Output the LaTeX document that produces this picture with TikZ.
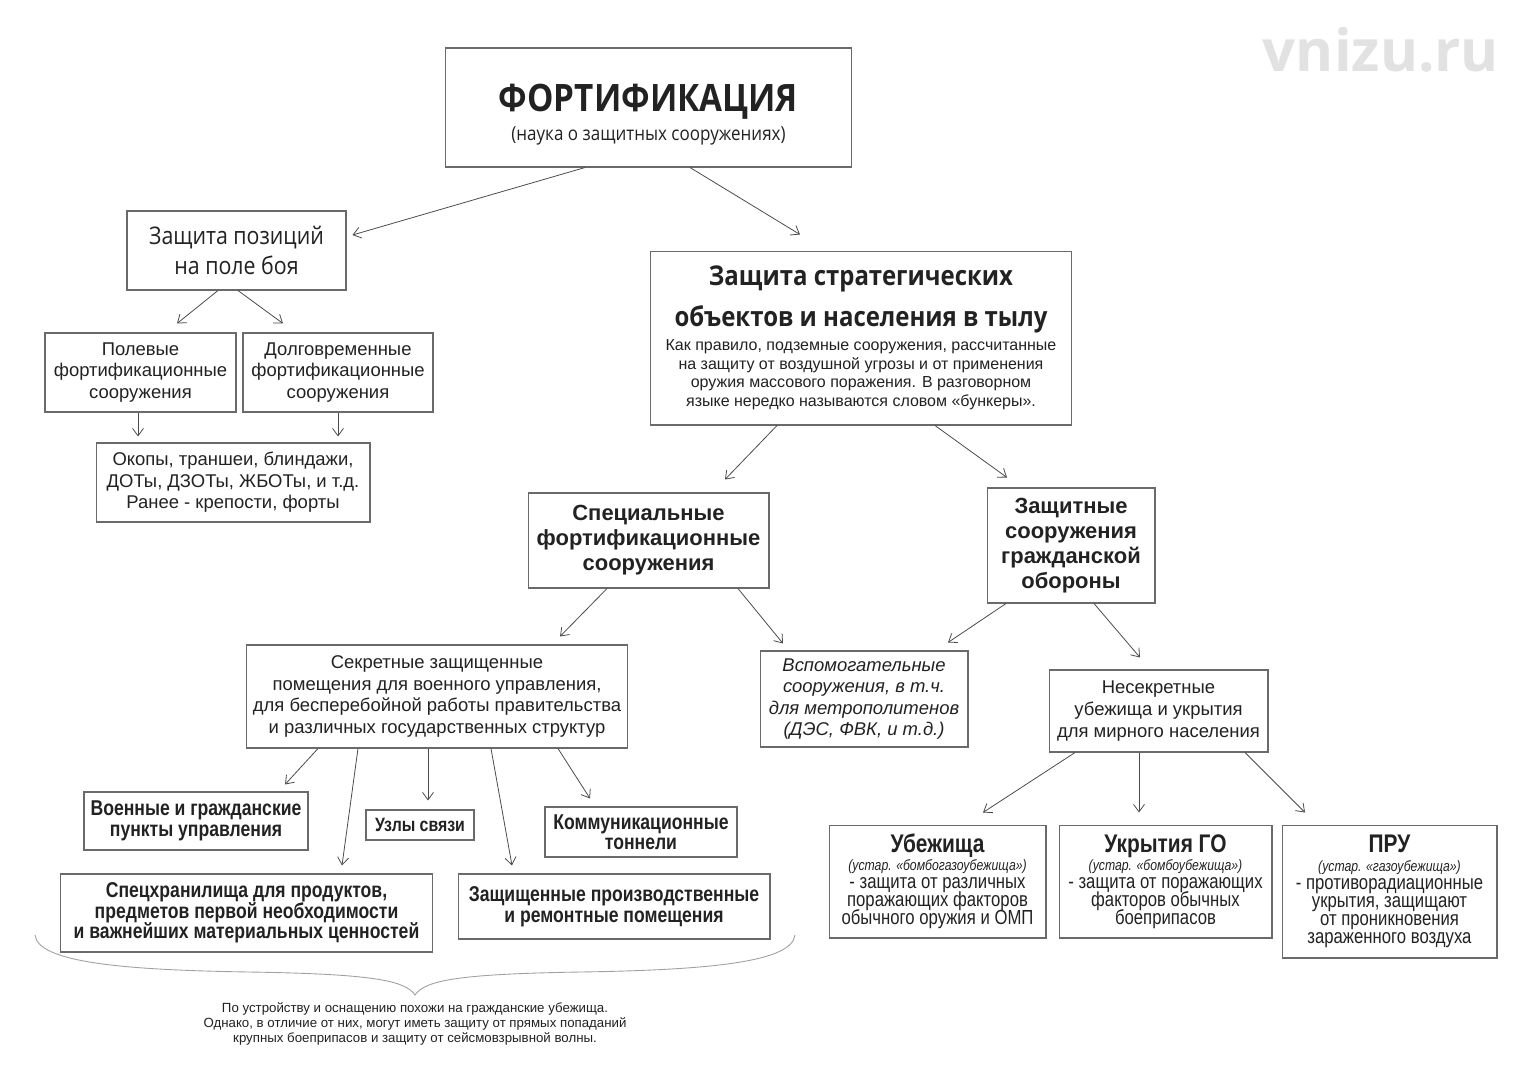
\documentclass[tikz,border=0pt]{standalone}
\usepackage{fontspec}
\setmainfont{Liberation Sans}
\newfontfamily\osfont[FakeStretch=0.88]{Open Sans}
\newfontfamily\sitefont{Open Sans}
\newfontfamily\narrowfont[FakeStretch=0.82]{Liberation Sans}
\usetikzlibrary{arrows.meta,calc}
\definecolor{ink}{HTML}{222222}
\definecolor{frame}{HTML}{6A6A6A}
\definecolor{wire}{HTML}{4A4A4A}
\definecolor{bracegray}{HTML}{A0A0A0}
\definecolor{watermark}{HTML}{E2E2E2}
\newcommand\headfont{\osfont\bfseries\fontsize{15.5}{19}\selectfont}
\newcommand\sheltertitle{\narrowfont\bfseries\fontsize{14.5}{16}\selectfont}
\newcommand\oldname{\narrowfont\itshape\fontsize{8.5}{9}\selectfont}
\newcommand\tightlines{\lineskiplimit=-20pt\relax}
\tikzset{
  box/.style={draw=frame,line width=0.6pt,fill=white,inner sep=0pt,align=center,text=ink},
  plainbox/.style={box,font=\fontsize{10.5}{12.3}\selectfont},
  heavybox/.style={box,font=\fontsize{12.5}{14.2}\selectfont\bfseries},
  narrowbox/.style={box,font=\narrowfont\fontsize{12.2}{11.7}\selectfont\bfseries\tightlines},
  shelterbox/.style={box,font=\narrowfont\fontsize{11.6}{10.3}\selectfont\tightlines},
  arr/.style={-{Straight Barb[length=1.5mm,width=2.2mm]},draw=wire,line width=0.45pt}
}
\begin{document}
\begin{tikzpicture}[x=0.02cm,y=-0.02cm]
  \useasboundingbox[fill=white] (0,0) rectangle (1525,1080);
  \node[font=\sitefont\bfseries\fontsize{33}{36}\selectfont,text=watermark] (site) at (1381,50) {vnizu.ru};

  % top of the tree
  \node[box,minimum width=8.14cm,minimum height=2.38cm] (fort) at (648.5,107.5)
    {{\osfont\bfseries\fontsize{21.5}{24}\selectfont\rule{0pt}{24pt}ФОРТИФИКАЦИЯ}\\[3pt]
     {\osfont\fontsize{11}{13}\selectfont (наука о защитных сооружениях)}};
  \node[box,minimum width=4.38cm,minimum height=1.58cm,font=\osfont\fontsize{13.8}{17.5}\selectfont] (field) at (236.5,250.5)
    {Защита позиций\\на поле боя};
  \node[box,minimum width=8.44cm,minimum height=3.48cm,font=\fontsize{9.1}{10.7}\selectfont\tightlines] (rear) at (861,338)
    {{\headfont Защита стратегических}\\[12.8pt]
     {\headfont объектов и населения в тылу}\\[2.6pt]
     Как правило, подземные сооружения, рассчитанные\\
     на защиту от воздушной угрозы и от применения\\
     оружия массового поражения. В разговорном\\
     языке нередко называются словом «бункеры».};

  % battlefield branch
  \node[plainbox,minimum width=3.82cm,minimum height=1.58cm] (fieldworks) at (140.5,372.5)
    {Полевые\\фортификационные\\сооружения};
  \node[plainbox,minimum width=3.80cm,minimum height=1.58cm] (permworks) at (338,372.5)
    {Долговременные\\фортификационные\\сооружения};
  \node[plainbox,minimum width=5.48cm,minimum height=1.58cm] (trenches) at (233,482.5)
    {Окопы, траншеи, блиндажи,\\ДОТы, ДЗОТы, ЖБОТы, и т.д.\\Ранее - крепости, форты};

  % rear branch
  \node[heavybox,minimum width=4.82cm,minimum height=1.90cm] (special) at (648.5,540.5)
    {Специальные\\фортификационные\\сооружения};
  \node[heavybox,minimum width=3.36cm,minimum height=2.30cm] (civdef) at (1071,545.5)
    {Защитные\\сооружения\\гражданской\\обороны};
  \node[plainbox,minimum width=7.64cm,minimum height=2.06cm] (secret) at (437,696.5)
    {Секретные защищенные\\помещения для военного управления,\\для бесперебойной работы правительства\\и различных государственных структур};
  \node[plainbox,minimum width=4.16cm,minimum height=1.92cm,font=\fontsize{10.5}{12.3}\selectfont\itshape] (aux) at (864,699)
    {Вспомогательные\\сооружения, в т.ч.\\для метрополитенов\\(ДЭС, ФВК, и т.д.)};
  \node[plainbox,minimum width=4.38cm,minimum height=1.64cm] (public) at (1158.5,711)
    {Несекретные\\убежища и укрытия\\для мирного населения};

  % secret facilities
  \node[narrowbox,minimum width=4.48cm,minimum height=1.16cm] (command) at (196,821)
    {Военные и гражданские\\пункты управления};
  \node[narrowbox,minimum width=2.16cm,minimum height=0.60cm,font=\narrowfont\fontsize{11}{11.7}\selectfont\bfseries] (signal) at (420,825)
    {Узлы связи};
  \node[narrowbox,minimum width=3.84cm,minimum height=1.00cm] (tunnels) at (641,832)
    {Коммуникационные\\тоннели};
  \node[narrowbox,minimum width=7.46cm,minimum height=1.56cm] (stores) at (246.5,913)
    {Спецхранилища для продуктов,\\предметов первой необходимости\\и важнейших материальных ценностей};
  \node[narrowbox,minimum width=6.24cm,minimum height=1.30cm] (plants) at (614,906.5)
    {Защищенные производственные\\и ремонтные помещения};

  % shelters for the public
  \node[shelterbox,minimum width=4.34cm,minimum height=2.26cm] (bunker) at (937.5,881.5)
    {{\sheltertitle Убежища}\\{\oldname (устар. «бомбогазоубежища»)}\\- защита от различных\\поражающих факторов\\обычного оружия и ОМП};
  \node[shelterbox,minimum width=4.26cm,minimum height=2.26cm] (cover) at (1165.5,881.5)
    {{\sheltertitle Укрытия ГО}\\{\oldname (устар. «бомбоубежища»)}\\- защита от поражающих\\факторов обычных\\боеприпасов};
  \node[shelterbox,minimum width=4.30cm,minimum height=2.66cm] (antirad) at (1389.5,891.5)
    {{\sheltertitle ПРУ}\\{\oldname (устар. «газоубежища»)}\\- противорадиационные\\укрытия, защищают\\от проникновения\\зараженного воздуха};

  % brace under the secret facilities
  \draw[bracegray,line width=0.5pt] (35,935) .. controls (38,962) and (120,970) .. (250,972)
    .. controls (370,974) and (405,980) .. (415,995)
    .. controls (425,980) and (460,974) .. (580,972)
    .. controls (710,970) and (792,962) .. (795,935);
  \node[font=\fontsize{7.55}{8.6}\selectfont,text=ink,align=center] (note) at (415,1024)
    {По устройству и оснащению похожи на гражданские убежища.\\
     Однако, в отличие от них, могут иметь защиту от прямых попаданий\\
     крупных боеприпасов и защиту от сейсмовзрывной волны.};

  % connectors
  \draw[arr] ($(fort.south)+(-63.5,0)$) -- ($(field.east)+(6,-15.5)$);
  \draw[arr] ($(fort.south)+(41.5,0)$) -- ($(rear.north)+(-61,-16)$);
  \draw[arr] ($(field.south)+(-18.5,0)$) -- ($(fieldworks.north)+(36.5,-9)$);
  \draw[arr] ($(field.south)+(1.5,0)$) -- ($(permworks.north)+(-55,-9)$);
  \draw[arr] ($(fieldworks.south)+(-2.5,0)$) -- ($(trenches.north)+(-95,-6)$);
  \draw[arr] (permworks.south) -- ($(trenches.north)+(105,-6)$);
  \draw[arr] ($(rear.south)+(-84,0)$) -- ($(special.north)+(76.5,-13)$);
  \draw[arr] ($(rear.south)+(74,0)$) -- ($(civdef.north)+(-64,-10)$);
  \draw[arr] ($(special.south)+(-41.5,0)$) -- ($(secret.north)+(123,-8)$);
  \draw[arr] ($(special.south)+(89.5,0)$) -- ($(aux.north)+(-81,-7)$);
  \draw[arr] ($(civdef.south)+(-65,0)$) -- ($(aux.north)+(84,-8)$);
  \draw[arr] ($(civdef.south)+(23,0)$) -- ($(public.north)+(-18.5,-12)$);
  \draw[arr] ($(secret.south)+(-119,0)$) -- ($(command.north)+(89,-7)$);
  \draw[arr] ($(secret.south)+(-79,0)$) -- ($(stores.north)+(95.5,-8)$);
  \draw[arr] ($(secret.south)+(-9,0)$) -- ($(signal.north)+(8,-9)$);
  \draw[arr] ($(secret.south)+(54,0)$) -- ($(plants.north)+(-102,-8)$);
  \draw[arr] ($(secret.south)+(121,0)$) -- ($(tunnels.north)+(-51,-8)$);
  \draw[arr] ($(public.south)+(-83.5,0)$) -- ($(bunker.north)+(45.5,-12)$);
  \draw[arr] ($(public.south)+(-19.5,0)$) -- ($(cover.north)+(-26.5,-12)$);
  \draw[arr] ($(public.south)+(86.5,0)$) -- ($(antirad.north)+(-84.5,-12)$);
\end{tikzpicture}
\end{document}
